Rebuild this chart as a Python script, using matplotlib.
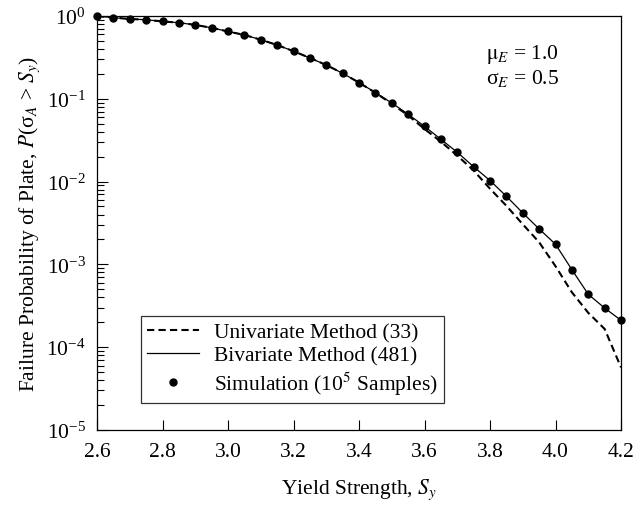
import numpy as np
import matplotlib
matplotlib.use("Agg")
import matplotlib.pyplot as plt

plt.rcParams["font.family"] = ["Liberation Serif", "DejaVu Serif"]
plt.rcParams["mathtext.fontset"] = "stix"

# Yield strength values (every 0.05)
yield_strength = [2.60, 2.65, 2.70, 2.75, 2.80, 2.85, 2.90, 2.95, 3.00, 3.05,
                  3.10, 3.15, 3.20, 3.25, 3.30, 3.35, 3.40, 3.45, 3.50, 3.55,
                  3.60, 3.65, 3.70, 3.75, 3.80, 3.85, 3.90, 3.95, 4.00, 4.05,
                  4.10, 4.15, 4.20]

# Monte Carlo simulation (10^5 samples)
simulation = [1.0, 0.955, 0.92, 0.90, 0.86, 0.83, 0.78, 0.72, 0.65, 0.59,
              0.517, 0.446, 0.376, 0.311, 0.256, 0.203, 0.157, 0.119, 0.089, 0.065,
              0.0465, 0.0324, 0.0226, 0.0151, 0.0103, 0.00664, 0.00418, 0.00268, 0.00175, 0.000863,
              0.000435, 0.000297, 0.000211]

# Bivariate method (481)
bivariate = simulation

# Univariate method (33)
univariate = [1.0, 0.955, 0.92, 0.90, 0.86, 0.83, 0.78, 0.72, 0.65, 0.59,
              0.517, 0.446, 0.376, 0.311, 0.256, 0.203, 0.157, 0.118, 0.087, 0.063,
              0.0432, 0.0303, 0.0206, 0.0136, 0.0082, 0.0051, 0.00305, 0.00185, 0.00095, 0.00046,
              0.00026, 0.000166, 0.000057]

fs = 15.5

fig = plt.figure(figsize=(6.34, 5.10), dpi=100)
ax = fig.add_axes([0.153, 0.155, 0.8265, 0.8117])

ax.plot(yield_strength, univariate, color="black", linestyle=(0, (3.5, 2)),
        linewidth=1.5, label="Univariate Method (33)")
ax.plot(yield_strength, bivariate, color="black", linestyle="-",
        linewidth=0.9, label="Bivariate Method (481)")
ax.plot(yield_strength, simulation, color="black", linestyle="none", marker="o",
        markersize=5, clip_on=False, zorder=5,
        label="Simulation (10$^5$ Samples)")

ax.set_yscale("log")
ax.set_xlim(2.6, 4.2)
ax.set_ylim(1e-5, 1e0)
ax.set_xticks(np.arange(2.6, 4.21, 0.2))
ax.set_xticklabels([f"{v:.1f}" for v in np.arange(2.6, 4.21, 0.2)])
ax.minorticks_on()
ax.xaxis.set_minor_locator(matplotlib.ticker.NullLocator())

ax.tick_params(axis="both", which="major", direction="in", labelsize=fs,
               top=False, right=False, width=0.8)
ax.tick_params(axis="y", which="major", length=8, pad=8)
ax.tick_params(axis="x", which="major", length=7, pad=9)
ax.tick_params(axis="y", which="minor", direction="in", length=5, width=0.8,
               right=False)
for s in ax.spines.values():
    s.set_linewidth(0.9)

ax.set_xlabel("Yield Strength, $S_y$", fontsize=fs, labelpad=11)
ax.set_ylabel("Failure Probability of Plate, $P$(σ$_A$ > $S_y$)", fontsize=fs,
              labelpad=3)

ax.text(0.743, 0.91, r"$\mathrm{\mu}_E$ = 1.0", transform=ax.transAxes,
        fontsize=fs, ha="left", va="center")
ax.text(0.743, 0.852, r"σ$_E$ = 0.5", transform=ax.transAxes,
        fontsize=fs, ha="left", va="center")

leg = ax.legend(loc="lower left", bbox_to_anchor=(0.084, 0.065), fontsize=fs,
                frameon=True, fancybox=False, edgecolor="black", handlelength=2.4,
                borderpad=0.3, labelspacing=0.15, handletextpad=0.7,
                borderaxespad=0)
leg.get_frame().set_linewidth(0.9)

plt.savefig("out.png", dpi=100)
